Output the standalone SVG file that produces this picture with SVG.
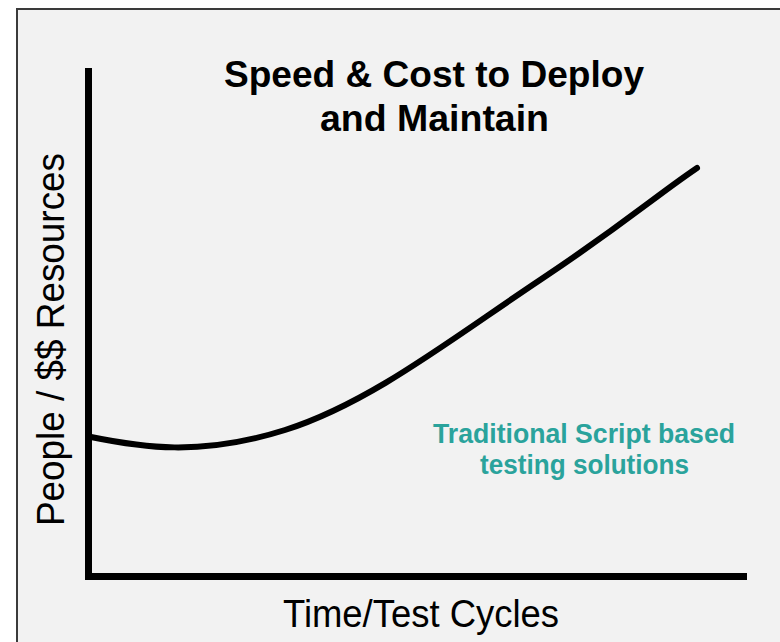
<svg xmlns="http://www.w3.org/2000/svg" width="780" height="642" viewBox="0 0 780 642">
<style>
.title{font-family:"Liberation Sans",Arial,sans-serif;font-weight:bold;font-size:36px;fill:#000;text-anchor:middle}
.axis{font-family:"Liberation Sans",Arial,sans-serif;font-size:38px;fill:#000}
.note{font-family:"Liberation Sans",Arial,sans-serif;font-weight:bold;font-size:27px;fill:#2aa39c;text-anchor:middle}
</style>
<rect x="0" y="0" width="780" height="642" fill="#ffffff"/>
<rect x="17" y="9" width="780" height="660" fill="#f2f2f2" stroke="#3a3a3a" stroke-width="2"/>
<g id="title">
<text class="title" x="434" y="87" textLength="420" lengthAdjust="spacingAndGlyphs">Speed &amp; Cost to Deploy</text>
<text class="title" x="434.5" y="131" textLength="229" lengthAdjust="spacingAndGlyphs">and Maintain</text>
</g>
<g id="axes">
<line x1="88.5" y1="68" x2="88.5" y2="580" stroke="#000" stroke-width="7"/>
<line x1="85" y1="576.5" x2="747" y2="576.5" stroke="#000" stroke-width="7"/>
</g>
<g id="y-label">
<text class="axis" transform="translate(64,526) rotate(-90)" x="0" y="0" textLength="373" lengthAdjust="spacingAndGlyphs">People / $$ Resources</text>
</g>
<g id="x-label">
<text class="axis" x="283" y="627" textLength="276" lengthAdjust="spacingAndGlyphs">Time/Test Cycles</text>
</g>
<g id="connectors">
<path d="M91,437 C140,447 200,457 285,430 S450,340 540,280 S650,200 697,168" fill="none" stroke="#000" stroke-width="6" stroke-linecap="round"/>
</g>
<g id="note">
<text class="note" x="584" y="443" textLength="302" lengthAdjust="spacingAndGlyphs">Traditional Script based</text>
<text class="note" x="584.5" y="474" textLength="209" lengthAdjust="spacingAndGlyphs">testing solutions</text>
</g>
</svg>
